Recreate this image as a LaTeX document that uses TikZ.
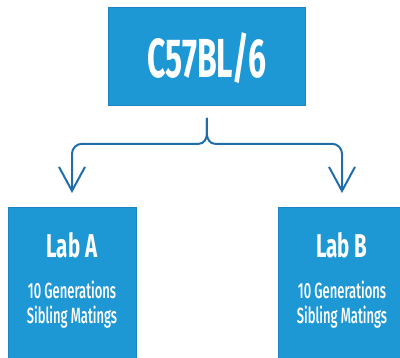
\documentclass[tikz,border=0pt]{standalone}
\usepackage{fontspec}
\setmainfont{Fira Sans}
\newfontfamily\medfont{Fira Sans Medium}
\usetikzlibrary{arrows.meta}
\definecolor{boxblue}{HTML}{1E98D5}
\definecolor{boxedge}{HTML}{1C84C2}
\definecolor{linkblue}{HTML}{1F6EA9}
\tikzset{
  box/.style={fill=boxblue, draw=boxedge, line width=0.8pt, inner sep=0pt, anchor=north west},
  conn/.style={draw=linkblue, line width=2pt, -{Straight Barb[length=24pt,width=26pt,line width=2pt]}},
  wtext/.style={text=white, inner sep=0pt}
}
\begin{document}
\begin{tikzpicture}[x=1pt,y=-1pt]
\useasboundingbox (0,0) rectangle (400,358);
\clip (0,0) rectangle (400,358);
\node[box, minimum width=197pt, minimum height=98pt] (top) at (108,7) {};
\node[box, minimum width=128pt, minimum height=170pt] (labA) at (8,207) {};
\node[box, minimum width=130pt, minimum height=170pt] (labB) at (278,207) {};
\node[wtext] (t0) at (207,58.5) {\fontsize{55}{55}\selectfont\bfseries\scalebox{0.58}[1]{C57BL/6}};
\node[wtext] (a1) at (72,245) {\fontsize{33}{33}\selectfont\bfseries\scalebox{0.62}[1]{Lab A}};
\node[wtext] (a2) at (72,290) {\fontsize{22}{22}\selectfont\medfont\scalebox{0.59}[1]{10 Generations}};
\node[wtext] (a3) at (72,317) {\fontsize{22}{22}\selectfont\medfont\scalebox{0.59}[1]{Sibling Matings}};
\node[wtext] (b1) at (342,245) {\fontsize{33}{33}\selectfont\bfseries\scalebox{0.62}[1]{Lab B}};
\node[wtext] (b2) at (342,290) {\fontsize{22}{22}\selectfont\medfont\scalebox{0.59}[1]{10 Generations}};
\node[wtext] (b3) at (342,317) {\fontsize{22}{22}\selectfont\medfont\scalebox{0.59}[1]{Sibling Matings}};
\draw[conn] ([yshift=-12pt]top.south) -- ++(0,16) to[out=-90,in=0] ++(-8,10)
  [rounded corners=10pt] -| ([yshift=14pt]labA.north -| a1.center);
\draw[conn] ([yshift=-12pt]top.south) -- ++(0,16) to[out=-90,in=180] ++(8,10)
  [rounded corners=10pt] -| ([yshift=14pt]labB.north -| b1.center);
\end{tikzpicture}
\end{document}
